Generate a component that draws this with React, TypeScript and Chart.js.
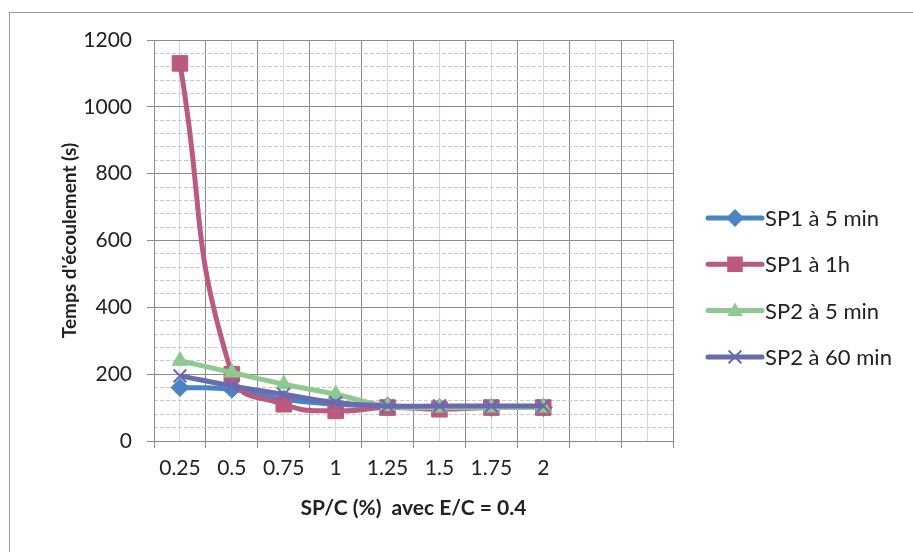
import React, { useEffect, useRef } from "react";
import { Chart, registerables } from "chart.js";

Chart.register(...registerables);

const categories = ["0.25", "0.5", "0.75", "1", "1.25", "1.5", "1.75", "2", "", ""];
const sp1At5min = [160, 155, 125, 110, 105, 100, 100, 100];
const sp1At1h = [1130, 200, 110, 90, 100, 95, 100, 100];
const sp2At5min = [240, 205, 170, 140, 105, 100, 100, 100];
const sp2At60min = [195, 165, 140, 115, 105, 105, 105, 105];
const seriesNames = ["SP1 à 5 min", "SP1 à 1h", "SP2 à 5 min", "SP2 à 60 min"];
const yTicks = { min: 0, max: 1200, step: 200, minorStep: 40 };

const FONT = "Lato, 'Open Sans', sans-serif";
const COLORS = ["#4a84c4", "#b95a7e", "#8fc98f", "#6a6ab0"];
const STYLES = ["rectRot", "rect", "triangle", "crossRot"];
const RADII = [9, 11, 9, 9];

const PLOT_L = 154;
const PLOT_R = 673;
const PLOT_T = 40;
const PLOT_B = 441;
const PAD_L = 58;
const PAD_B = 31;
const W = 913;
const H = 552;

function drawMarker(ctx: CanvasRenderingContext2D, style: string, x: number, y: number, r: number, color: string) {
  ctx.save();
  ctx.fillStyle = color;
  ctx.strokeStyle = color;
  ctx.beginPath();
  if (style === "rectRot") {
    ctx.moveTo(x, y - r);
    ctx.lineTo(x + r, y);
    ctx.lineTo(x, y + r);
    ctx.lineTo(x - r, y);
    ctx.closePath();
    ctx.fill();
  } else if (style === "rect") {
    const s = r * Math.SQRT1_2;
    ctx.rect(x - s, y - s, 2 * s, 2 * s);
    ctx.fill();
  } else if (style === "triangle") {
    const h = (r * 3) / Math.sqrt(3);
    ctx.moveTo(x - h / 2, y + r / 2 + 1);
    ctx.lineTo(x + h / 2, y + r / 2 + 1);
    ctx.lineTo(x, y - r + 1);
    ctx.closePath();
    ctx.fill();
  } else {
    const s = r * Math.SQRT1_2;
    ctx.lineWidth = 2;
    ctx.moveTo(x - s, y - s);
    ctx.lineTo(x + s, y + s);
    ctx.moveTo(x + s, y - s);
    ctx.lineTo(x - s, y + s);
    ctx.stroke();
  }
  ctx.restore();
}

const legendPlugin = {
  id: "excelLegend",
  afterDraw(chart: any) {
    const ctx = chart.ctx as CanvasRenderingContext2D;
    const x0 = 708;
    const lineLen = 54;
    const yStart = 218;
    const gap = 46.3;
    chart.data.datasets.forEach((ds: any, i: number) => {
      const y = yStart + i * gap;
      ctx.save();
      ctx.strokeStyle = COLORS[i];
      ctx.lineWidth = 5;
      ctx.lineCap = "round";
      ctx.beginPath();
      ctx.moveTo(x0, y);
      ctx.lineTo(x0 + lineLen, y);
      ctx.stroke();
      ctx.restore();
      drawMarker(ctx, STYLES[i], x0 + lineLen / 2, y, RADII[i], COLORS[i]);
      ctx.save();
      ctx.fillStyle = "#222";
      ctx.font = `22px ${FONT}`;
      ctx.textBaseline = "middle";
      ctx.textAlign = "left";
      ctx.fillText(ds.label, x0 + lineLen + 3, y + 1);
      ctx.restore();
    });
  },
};

export default function App() {
  const ref = useRef<HTMLCanvasElement | null>(null);
  useEffect(() => {
    if (!ref.current) return;
    const series = [sp1At5min, sp1At1h, sp2At5min, sp2At60min];
    const chart = new Chart(ref.current, {
      type: "line",
      data: {
        labels: categories,
        datasets: series.map((d, i) => ({
          label: seriesNames[i],
          data: d,
          borderColor: COLORS[i],
          backgroundColor: COLORS[i],
          pointBackgroundColor: COLORS[i],
          pointBorderColor: COLORS[i],
          pointStyle: STYLES[i] as any,
          pointRadius: RADII[i],
          pointBorderWidth: i === 3 ? 2 : 1,
          borderWidth: 5,
          tension: 0.5,
          fill: false,
          order: 4 - i,
        })),
      },
      options: {
        responsive: false,
        animation: false,
        layout: { padding: { left: PAD_L, right: W - PLOT_R, top: PLOT_T, bottom: PAD_B } },
        plugins: { legend: { display: false }, tooltip: { enabled: false } },
        scales: {
          xMinor: {
            type: "category",
            position: "bottom",
            offset: true,
            grid: { offset: false, color: "#cdd9e6", drawTicks: false, lineWidth: 1 },
            border: { display: false },
            ticks: { display: false },
          },
          x: {
            type: "category",
            position: "bottom",
            offset: true,
            grid: { offset: true, color: "#8a8a8a", tickLength: 7, lineWidth: 1 },
            border: { color: "#8a8a8a" },
            ticks: { color: "#222", font: { family: FONT, size: 21 }, padding: 8, autoSkip: false, maxRotation: 0 },
            title: {
              display: true,
              text: "SP/C (%)  avec E/C = 0.4",
              color: "#222",
              font: { family: FONT, size: 21, weight: "bold" },
              padding: 0,
            },
            afterFit: (s: any) => {
              s.height = H - PAD_B - PLOT_B;
            },
          },
          yMinor: {
            type: "linear",
            position: "left",
            min: yTicks.min,
            max: yTicks.max,
            grid: { color: "#c9c9c9", drawTicks: false, lineWidth: 1 },
            border: { display: false, dash: [4, 2] },
            ticks: { display: false, stepSize: yTicks.minorStep },
          },
          y: {
            type: "linear",
            position: "left",
            min: yTicks.min,
            max: yTicks.max,
            grid: { color: "#8a8a8a", tickLength: 7, lineWidth: 1 },
            border: { color: "#8a8a8a" },
            ticks: {
              stepSize: yTicks.step,
              color: "#222",
              font: { family: FONT, size: 21 },
              padding: 15,
              callback: (v: any) => String(v),
            },
            title: {
              display: true,
              text: "Temps d'écoulement (s)",
              color: "#222",
              font: { family: FONT, size: 19, weight: "bold" },
              padding: 0,
            },
            afterFit: (s: any) => {
              s.width = PLOT_L - PAD_L;
            },
          },
        },
      },
      plugins: [legendPlugin],
    });
    return () => chart.destroy();
  }, []);
  return (
    <div style={{ position: "absolute", left: 0, top: 0, width: W, height: H, background: "#fff", overflow: "hidden" }}>
      <div
        style={{
          position: "absolute",
          left: 9,
          top: 12,
          width: W,
          height: H,
          borderLeft: "1px solid #9a9a9a",
          borderTop: "1px solid #9a9a9a",
        }}
      />
      <canvas ref={ref} width={W} height={H} style={{ position: "absolute", left: 0, top: 0, width: W, height: H }} />
    </div>
  );
}
